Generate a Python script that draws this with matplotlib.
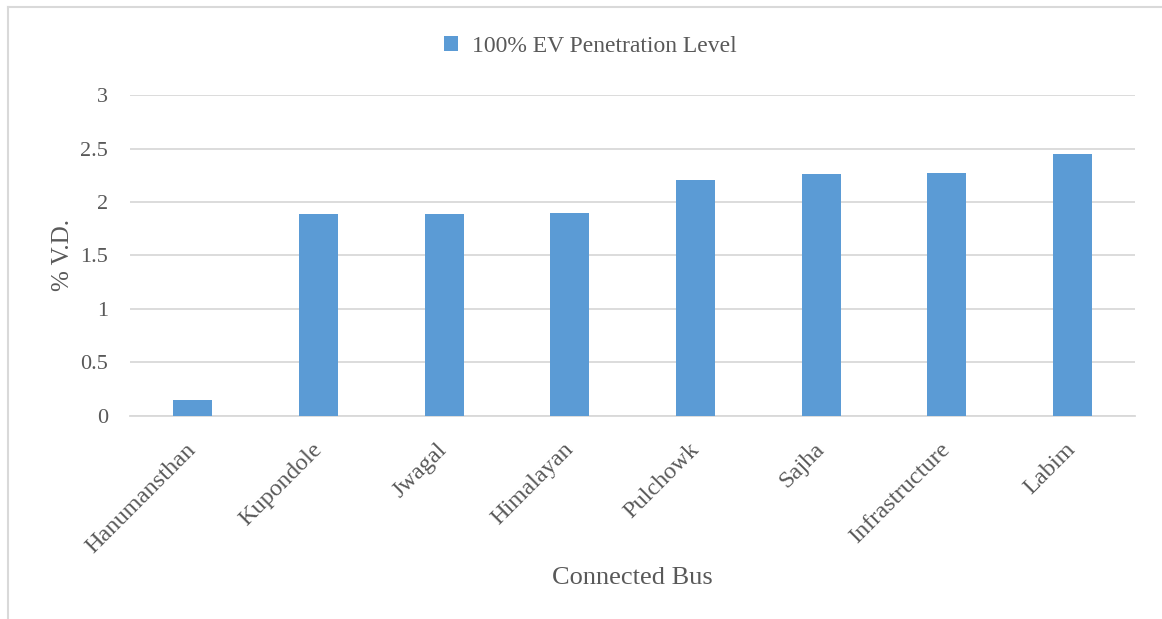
import matplotlib.pyplot as plt
from matplotlib.lines import Line2D

buses = ["Hanumansthan", "Kupondole", "Jwagal", "Himalayan",
         "Pulchowk", "Sajha", "Infrastructure", "Labim"]
vd = [0.15, 1.89, 1.89, 1.90, 2.21, 2.26, 2.27, 2.45]
series_name = "100% EV Penetration Level"
yticks = [0, 0.5, 1, 1.5, 2, 2.5, 3]
ytick_labels = ["0", "0.5", "1", "1.5", "2", "2.5", "3"]

plt.rcParams['font.family'] = ['Liberation Serif', 'DejaVu Serif']
text_col = '#595959'
grid_col = '#D9D9D9'

fig = plt.figure(figsize=(11.62, 6.19), dpi=100)
ax = fig.add_axes([0.112, 0.328, 0.865, 0.5185])

ax.bar(range(len(buses)), vd, width=0.31, color='#5B9BD5', label=series_name, zorder=3)

ax.set_xlim(-0.5, len(buses) - 0.5)
ax.set_ylim(0, 3)
ax.set_yticks(yticks)
ax.set_yticklabels(ytick_labels)
ax.set_xticks(range(len(buses)))
ax.set_xticklabels(buses, rotation=45, ha='right', va='center', rotation_mode='anchor')

ax.grid(axis='y', color=grid_col, linewidth=1.3, zorder=0)
for s in ['top', 'right', 'left']:
    ax.spines[s].set_visible(False)
ax.spines['bottom'].set_color(grid_col)
ax.spines['bottom'].set_linewidth(1.3)
ax.tick_params(axis='y', length=0, labelsize=16, colors=text_col, pad=16)
ax.tick_params(axis='x', length=0, labelsize=17.5, colors=text_col, pad=22)

ax.set_ylabel("% V.D.", fontsize=18, color=text_col, labelpad=4)
ax.set_xlabel("Connected Bus", fontsize=19, color=text_col, labelpad=7)

fig.legend(loc='center', bbox_to_anchor=(0.508, 0.925), frameon=False,
           fontsize=17, labelcolor=text_col, handlelength=0.6, handleheight=0.6,
           handletextpad=0.6)

# light frame around the chart area (left and top edges)
fig.add_artist(Line2D([8 / 1162, 8 / 1162], [0, 1 - 7 / 619], transform=fig.transFigure,
                      color=grid_col, linewidth=1.5))
fig.add_artist(Line2D([8 / 1162, 1], [1 - 7 / 619, 1 - 7 / 619], transform=fig.transFigure,
                      color=grid_col, linewidth=1.5))

fig.savefig("out.png", dpi=100)
